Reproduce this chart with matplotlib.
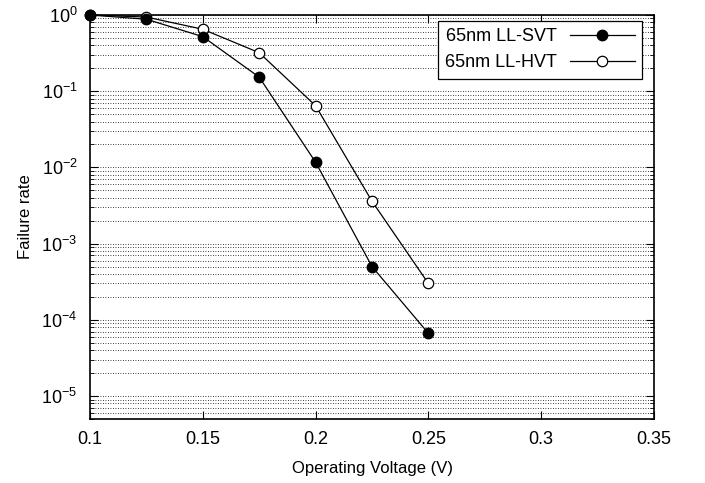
import matplotlib
matplotlib.use('Agg')
import matplotlib.pyplot as plt
from matplotlib.ticker import LogLocator, FixedLocator, NullFormatter

plt.rcParams['font.family'] = ['Liberation Sans', 'DejaVu Sans']
plt.rcParams['mathtext.fontset'] = 'custom'
plt.rcParams['mathtext.rm'] = 'Liberation Sans'
plt.rcParams['mathtext.it'] = 'Liberation Sans'

# operating voltage (V) and failure rates read per cell type
voltage = [0.1, 0.125, 0.15, 0.175, 0.2, 0.225, 0.25]
svt_rate = [1.0, 0.88, 0.52, 0.153, 0.0117, 5.0e-4, 6.65e-5]
hvt_rate = [1.0, 0.94, 0.65, 0.32, 0.0645, 3.6e-3, 3.0e-4]

xticks = [0.1, 0.15, 0.2, 0.25, 0.3, 0.35]
xticklabels = ['0.1', '0.15', '0.2', '0.25', '0.3', '0.35']
yticks = [1e0, 1e-1, 1e-2, 1e-3, 1e-4, 1e-5]
yticklabels = ['$10^{0}$', '$10^{-1}$', '$10^{-2}$', '$10^{-3}$', '$10^{-4}$', '$10^{-5}$']

fig = plt.figure(figsize=(7.05, 4.83), dpi=100)
ax = fig.add_axes([90 / 705, 1 - 419 / 483, 564 / 705, 404 / 483])

ax.plot(voltage, hvt_rate, color='black', lw=0.9, marker='o', ms=7.5,
        mfc='white', mec='black', mew=0.9, label='65nm LL-HVT', zorder=3,
        clip_on=False)
ax.plot(voltage, svt_rate, color='black', lw=0.9, marker='o', ms=7.5,
        mfc='black', mec='black', label='65nm LL-SVT', zorder=4,
        clip_on=False)

ax.set_yscale('log')
ax.set_xlim(0.1, 0.35)
ax.set_ylim(5e-6, 1)

ax.xaxis.set_major_locator(FixedLocator(xticks))
ax.set_xticklabels(xticklabels)
ax.yaxis.set_major_locator(FixedLocator(yticks))
ax.set_yticklabels(yticklabels)
ax.yaxis.set_minor_locator(LogLocator(base=10, subs=range(2, 10), numticks=20))
ax.yaxis.set_minor_formatter(NullFormatter())

ax.grid(True, which='both', axis='y', color='black', linestyle=(0, (1, 2)), lw=0.6)
ax.set_axisbelow(True)

ax.tick_params(which='major', direction='in', length=6, width=0.8,
               top=True, right=True, labelsize=13, pad=9)
ax.tick_params(which='minor', direction='in', length=3, width=0.6,
               top=False, right=True)
for s in ax.spines.values():
    s.set_linewidth(1.2)

ax.set_xlabel('Operating Voltage (V)', fontsize=12, labelpad=9)
ax.set_ylabel('Failure rate', fontsize=12, labelpad=6)

h, l = ax.get_legend_handles_labels()
leg = ax.legend(h[::-1], l[::-1], loc='upper right', bbox_to_anchor=(0.979, 0.985),
                borderaxespad=0, markerfirst=False, fontsize=13, handlelength=3.6,
                handletextpad=0.7, borderpad=0.4, labelspacing=0.5, fancybox=False,
                framealpha=1, edgecolor='black')
leg.get_frame().set_linewidth(0.9)

fig.savefig('out.png', dpi=100)
